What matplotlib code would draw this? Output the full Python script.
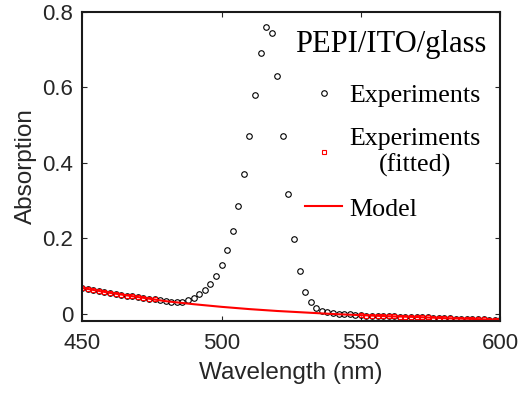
import matplotlib
import matplotlib.pyplot as plt
import numpy as np

matplotlib.use("Agg")

# measured absorption, 2 nm steps
wavelength = np.arange(450, 601, 2)
absorption = np.array([
    0.068, 0.066, 0.063, 0.060, 0.057, 0.055, 0.052, 0.050, 0.048, 0.046,
    0.044, 0.042, 0.040, 0.038, 0.035, 0.033, 0.031, 0.030, 0.031, 0.035,
    0.042, 0.051, 0.063, 0.078, 0.100, 0.130, 0.169, 0.220, 0.285, 0.369,
    0.470, 0.581, 0.690, 0.761, 0.744, 0.631, 0.470, 0.318, 0.198, 0.113,
    0.058, 0.030, 0.016, 0.008, 0.004, 0.001, 0.000, -0.001, -0.002, -0.003,
    -0.004, -0.005, -0.005, -0.006, -0.006, -0.007, -0.007, -0.008, -0.008, -0.009,
    -0.009, -0.010, -0.010, -0.011, -0.011, -0.012, -0.012, -0.013, -0.013, -0.014,
    -0.014, -0.015, -0.015, -0.016, -0.016, -0.017,
])

# points used for the fit (outside the exciton peak)
fit_low, fit_high = 476, 550

# model curve
model_wl = [450, 460, 470, 480, 490, 500, 510, 520, 530, 540, 550, 560, 570, 580, 590, 600]
model_abs = [0.068, 0.055, 0.044, 0.033, 0.025, 0.018, 0.012, 0.007, 0.003, -0.001,
             -0.004, -0.007, -0.009, -0.012, -0.014, -0.017]

sans = "Liberation Sans"
serif = "Liberation Serif"
grey = "#262626"

fig = plt.figure(figsize=(5.2, 3.97), dpi=100)
ax = fig.add_axes([0.158, 0.191, 0.804, 0.779])

ax.plot(wavelength, absorption, "o", mfc="none", mec="black", ms=4.0, mew=0.8,
        label="Experiments")
mask = (wavelength <= fit_low) | (wavelength >= fit_high)
ax.plot(wavelength[mask], absorption[mask], "s", mfc="none", mec="red", ms=2.6,
        mew=0.8, label="Experiments\n(fitted)")
ax.plot(model_wl, model_abs, "-", color="red", lw=1.5, label="Model")

ax.set_xlim(450, 600)
ax.set_ylim(-0.02, 0.8)
ax.set_xticks([450, 500, 550, 600])
ax.set_yticks([0, 0.2, 0.4, 0.6, 0.8])
ax.set_yticklabels(["0", "0.2", "0.4", "0.6", "0.8"])
ax.tick_params(direction="in", length=3.5, width=0.8, top=True, right=True,
               labelsize=16, colors=grey)
ax.tick_params(axis="x", pad=8.5)
ax.tick_params(axis="y", pad=6.5)
for lab in ax.get_xticklabels() + ax.get_yticklabels():
    lab.set_fontfamily(sans)
for sp in ax.spines.values():
    sp.set_linewidth(1.5)
    sp.set_color("#1a1a1a")

ax.set_xlabel("Wavelength (nm)", fontsize=17.5, family=sans, color=grey, labelpad=6)
ax.set_ylabel("Absorption", fontsize=17.5, family=sans, color=grey, labelpad=4)

ax.text(0.967, 0.94, "PEPI/ITO/glass", transform=ax.transAxes, ha="right",
        va="top", fontsize=22, family=serif)

leg = ax.legend(loc="upper right", bbox_to_anchor=(0.985, 0.81), frameon=False,
                prop={"family": serif, "size": 18.7}, handlelength=1.4,
                handletextpad=0.3, labelspacing=0.8, borderpad=0)
for t in leg.get_texts():
    t.set_multialignment("center")

fig.savefig("out.png", dpi=100)
